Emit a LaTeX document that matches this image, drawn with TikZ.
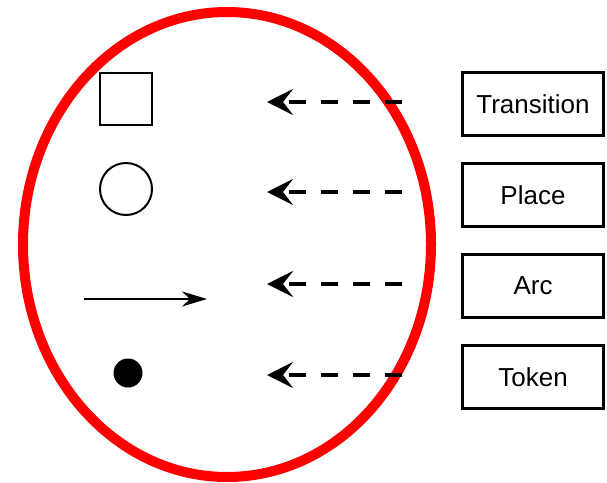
\documentclass[tikz,border=0pt]{standalone}
\usepackage{fontspec}
\setmainfont{Liberation Sans}
\usetikzlibrary{arrows.meta}
\begin{document}
\begin{tikzpicture}[x=1pt,y=-1pt,
  label box/.style={draw,line width=3pt,minimum width=141pt,minimum height=63pt,inner sep=0pt,font=\fontsize{26}{30}\selectfont},
  pointer/.style={line width=4pt,dash pattern=on 17pt off 15pt,-{Stealth[length=26pt,width=26pt,inset=10pt]}},
  arcarrow/.style={line width=2pt,-{Stealth[length=25pt,width=15pt,inset=8pt]}}]
\useasboundingbox (0,0) rectangle (607,482);
\draw[red,line width=10pt] (227,244.5) ellipse [x radius=204pt,y radius=232.5pt];
\node[label box] (bt) at (533,104) {\raisebox{-1pt}{Transition}};
\node[label box] (bp) at (533,195) {\raisebox{-1pt}{Place}};
\node[label box] (ba) at (533,286) {\raisebox{-1pt}{Arc}};
\node[label box] (bk) at (533,377) {\raisebox{-1pt}{Token}};
\node[draw,line width=2pt,minimum size=52pt,inner sep=0pt] (sq) at (126,99) {};
\node[draw,circle,line width=2pt,minimum size=52pt,inner sep=0pt] (pl) at (126,189) {};
\node[fill,circle,minimum size=29pt,inner sep=0pt] (tk) at (128,373) {};
\coordinate (a0) at (84,299);
\coordinate (a1) at (207,299);
\draw[arcarrow] (a0) -- (a1);
\foreach \n/\y in {t/102,p/192,a/284,k/375}{
  \coordinate (s\n) at (402,\y);
  \coordinate (e\n) at (267,\y);
  \draw[pointer] (s\n) -- (e\n);
}
\end{tikzpicture}
\end{document}
